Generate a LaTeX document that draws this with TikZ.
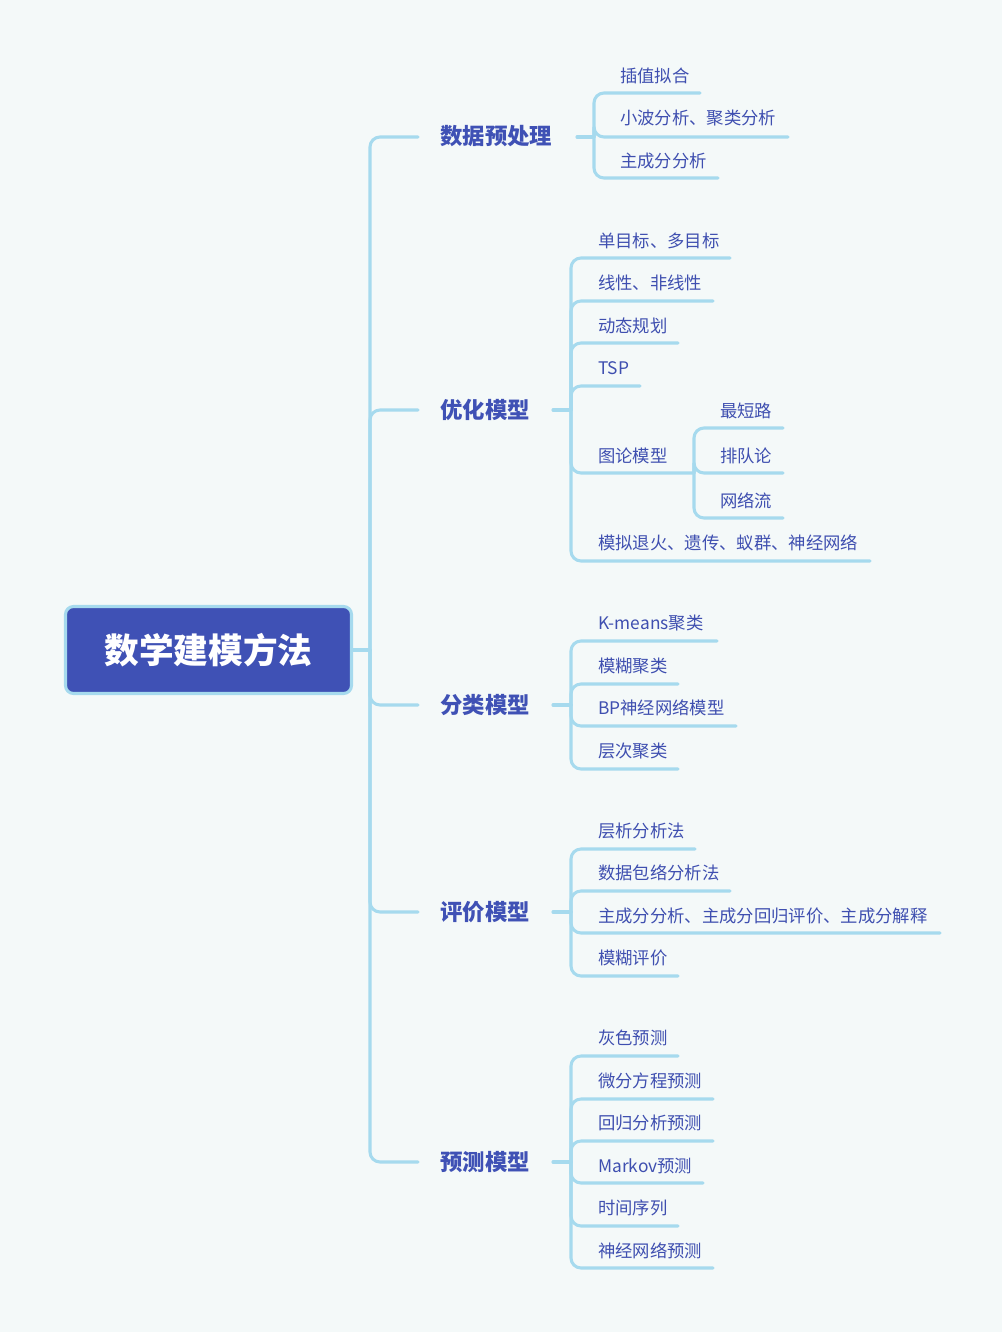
\documentclass[tikz,border=0pt]{standalone}
\usepackage{fontspec}
\setmainfont{Noto Sans CJK SC}
\definecolor{bgc}{HTML}{F4F9F9}
\definecolor{linec}{HTML}{A6DAEE}
\definecolor{indigo}{HTML}{3F51B5}
\definecolor{txtc}{HTML}{3F4FB0}
\begin{document}
\begin{tikzpicture}[x=0.75pt,y=-0.75pt,
  conn/.style={draw=linec,line width=2.3pt,rounded corners=7.5pt,line cap=round},
  leaf/.style={anchor=west,inner sep=0pt,text=txtc,font=\fontsize{13pt}{15pt}\selectfont},
  topic/.style={anchor=west,inner sep=0pt,text=indigo,font=\fontsize{16.8pt}{18pt}\selectfont\bfseries},
  rootbox/.style={draw=linec,line width=2.3pt,fill=indigo,rounded corners=6pt,text=white,
     minimum width=214.5pt,minimum height=65.25pt,inner sep=0pt,font=\fontsize{26pt}{28pt}\selectfont\bfseries}]
\fill[bgc] (0,0) rectangle (1002,1332);
\useasboundingbox (0,0) rectangle (1002,1332);

% root
\node[rootbox] (root) at (208.5,650) {数学建模方法};
\coordinate (rs) at (370,650);
\draw[conn] (root.east) -- (rs);

% topics
\node[topic] (t1) at (440,136) {数据预处理};
\node[topic] (t2) at (440,410) {优化模型};
\node[topic] (t3) at (440,705) {分类模型};
\node[topic] (t4) at (440,912) {评价模型};
\node[topic] (t5) at (440,1162) {预测模型};
\coordinate (t1a) at (418,137);
\coordinate (t2a) at (418,410);
\coordinate (t3a) at (418,705);
\coordinate (t4a) at (418,912);
\coordinate (t5a) at (418,1162);
\foreach \t in {t1a,t2a,t3a,t4a,t5a} \draw[conn] (rs) |- (\t);

% spurs from topics
\coordinate (s1) at (594,137);
\coordinate (s2) at (571,410);
\coordinate (s3) at (571,705);
\coordinate (s4) at (571,912);
\coordinate (s5) at (571,1162);
\draw[conn] (577,137) -- (s1);
\draw[conn] (553,410) -- (s2);
\draw[conn] (553,705) -- (s3);
\draw[conn] (553,912) -- (s4);
\draw[conn] (553,1162) -- (s5);

% 数据预处理
\node[leaf] (a1) at (620,76) {插值拟合};
\node[leaf] (a2) at (620,118) {小波分析、聚类分析};
\node[leaf] (a3) at (620,161) {主成分分析};
\coordinate (a1e) at (700,93);
\coordinate (a2e) at (788,137);
\coordinate (a3e) at (718,178);
\foreach \e in {a1e,a2e,a3e} \draw[conn] (s1) |- (\e);

% 优化模型
\node[leaf] (b1) at (598,241) {单目标、多目标};
\node[leaf] (b2) at (598,283) {线性、非线性};
\node[leaf] (b3) at (598,326) {动态规划};
\node[leaf] (b4) at (598,368) {TSP};
\node[leaf] (b5) at (598,456) {图论模型};
\node[leaf] (b6) at (598,543) {模拟退火、遗传、蚁群、神经网络};
\coordinate (b1e) at (730,258);
\coordinate (b2e) at (713,301);
\coordinate (b3e) at (678,343);
\coordinate (b4e) at (640,386);
\coordinate (b5e) at (694,473);
\coordinate (b6e) at (870,561);
\foreach \e in {b1e,b2e,b3e,b4e,b5e,b6e} \draw[conn] (s2) |- (\e);

% 图论模型 children
\node[leaf] (g1) at (720,411) {最短路};
\node[leaf] (g2) at (720,456) {排队论};
\node[leaf] (g3) at (720,501) {网络流};
\coordinate (g1e) at (783,428);
\coordinate (g2e) at (783,473);
\coordinate (g3e) at (783,518);
\foreach \e in {g1e,g2e,g3e} \draw[conn] (b5e) |- (\e);

% 分类模型
\node[leaf] (c1) at (598,623) {K-means聚类};
\node[leaf] (c2) at (598,666) {模糊聚类};
\node[leaf] (c3) at (598,708) {BP神经网络模型};
\node[leaf] (c4) at (598,751) {层次聚类};
\coordinate (c1e) at (717,641);
\coordinate (c2e) at (678,684);
\coordinate (c3e) at (736,726);
\coordinate (c4e) at (678,769);
\foreach \e in {c1e,c2e,c3e,c4e} \draw[conn] (s3) |- (\e);

% 评价模型
\node[leaf] (d1) at (598,831) {层析分析法};
\node[leaf] (d2) at (598,873) {数据包络分析法};
\node[leaf] (d3) at (598,916) {主成分分析、主成分回归评价、主成分解释};
\node[leaf] (d4) at (598,958) {模糊评价};
\coordinate (d1e) at (695,849);
\coordinate (d2e) at (730,891);
\coordinate (d3e) at (940,933);
\coordinate (d4e) at (678,976);
\foreach \e in {d1e,d2e,d3e,d4e} \draw[conn] (s4) |- (\e);

% 预测模型
\node[leaf] (e1) at (598,1038) {灰色预测};
\node[leaf] (e2) at (598,1081) {微分方程预测};
\node[leaf] (e3) at (598,1123) {回归分析预测};
\node[leaf] (e4) at (598,1166) {Markov预测};
\node[leaf] (e5) at (598,1208) {时间序列};
\node[leaf] (e6) at (598,1251) {神经网络预测};
\coordinate (e1e) at (678,1056);
\coordinate (e2e) at (713,1099);
\coordinate (e3e) at (713,1141);
\coordinate (e4e) at (703,1183);
\coordinate (e5e) at (678,1226);
\coordinate (e6e) at (713,1268);
\foreach \e in {e1e,e2e,e3e,e4e,e5e,e6e} \draw[conn] (s5) |- (\e);
\end{tikzpicture}
\end{document}
